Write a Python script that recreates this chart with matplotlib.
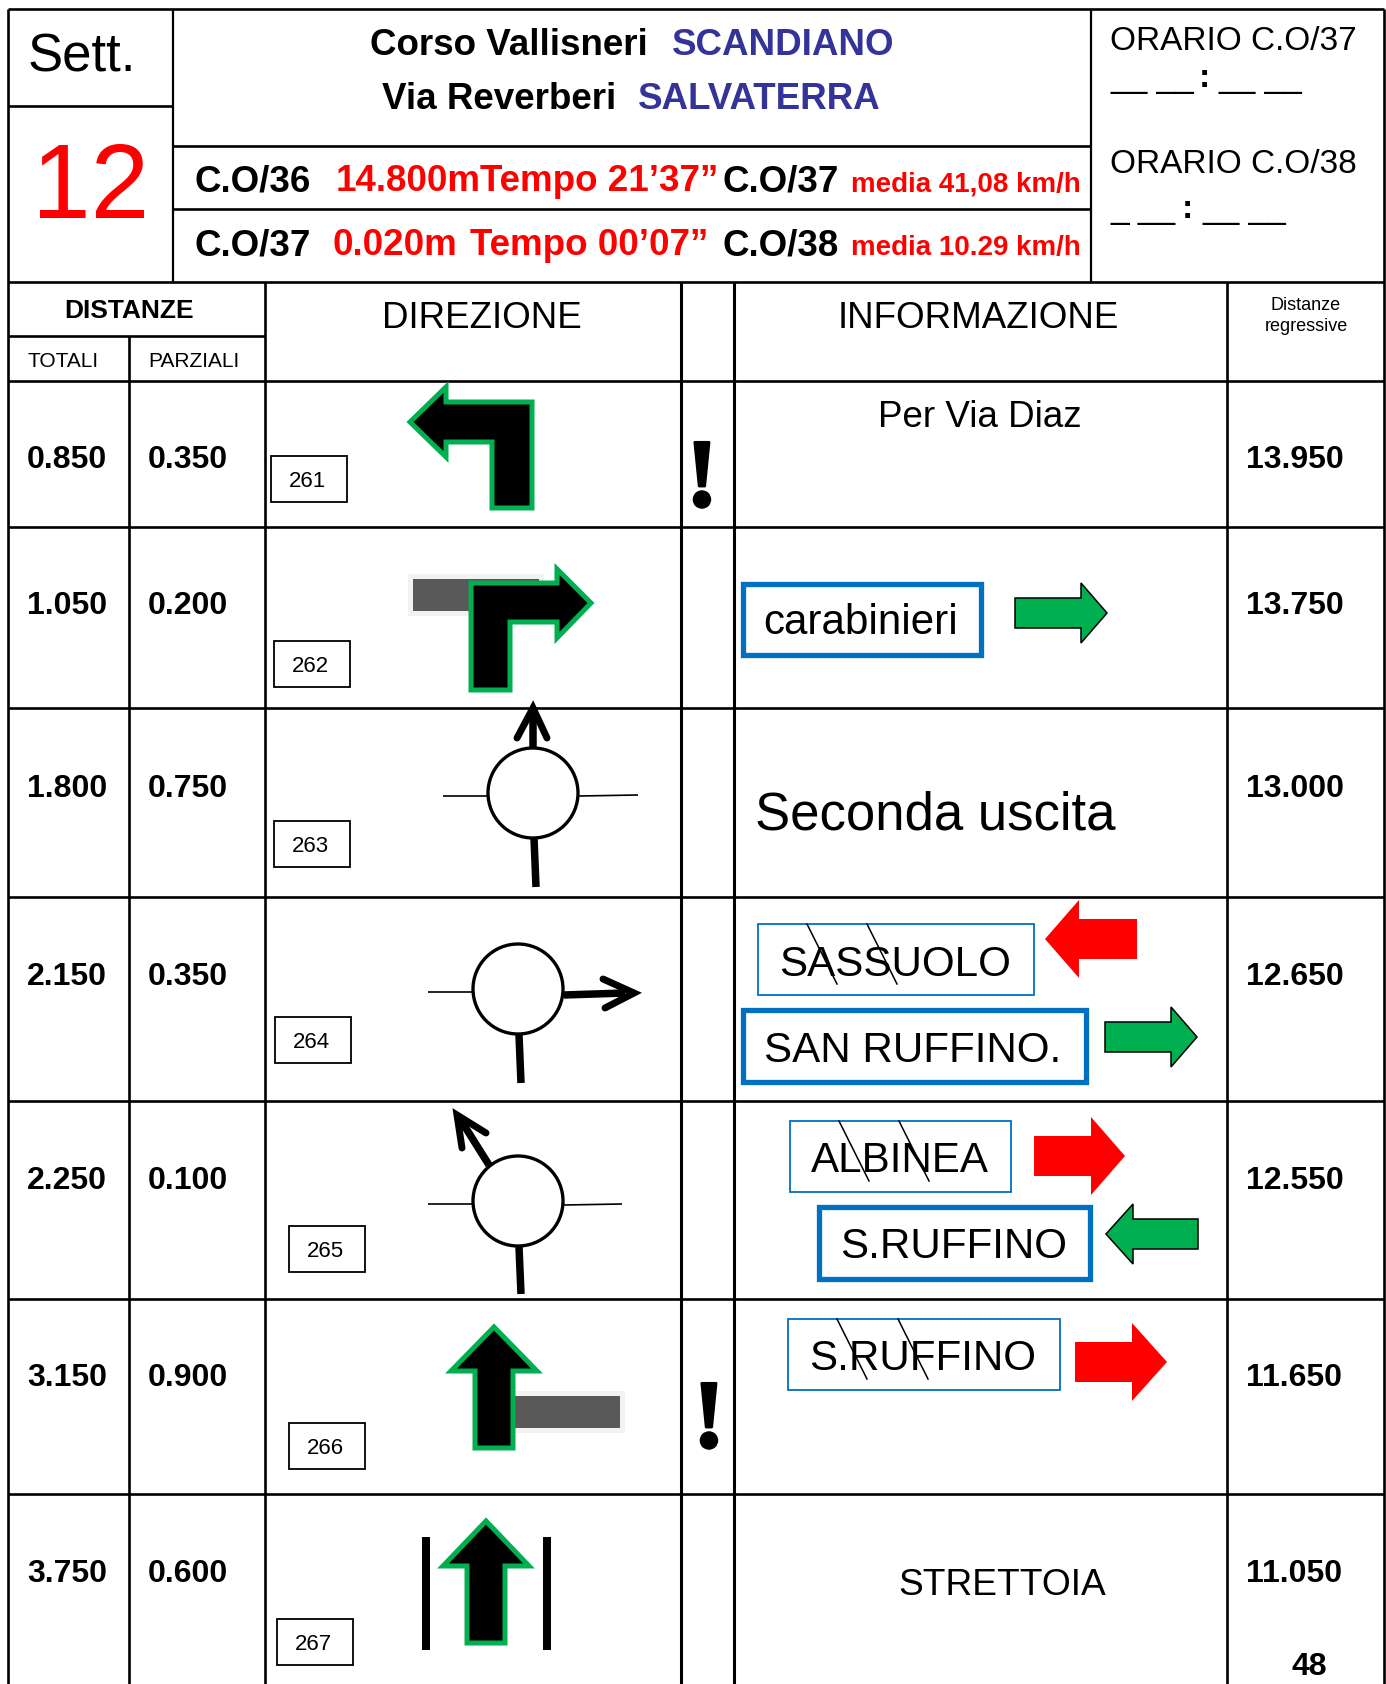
import matplotlib
matplotlib.use("Agg")
import matplotlib.pyplot as plt
from matplotlib.patches import Polygon, Rectangle, Circle
import matplotlib.patheffects as pe

plt.rcParams['font.family'] = ['Liberation Sans', 'DejaVu Sans']

# table values
totali = ["0.850", "1.050", "1.800", "2.150", "2.250", "3.150", "3.750"]
parziali = ["0.350", "0.200", "0.750", "0.350", "0.100", "0.900", "0.600"]
regressive = ["13.950", "13.750", "13.000", "12.650", "12.550", "11.650", "11.050"]
ids = ["261", "262", "263", "264", "265", "266", "267"]
page_no = "48"

# layout, in pixels of the 1386x1684 page
row_lines = [381, 527, 708, 897, 1101, 1299, 1494]
row_base = [468, 614, 797, 985, 1189, 1386, 1582]
id_box = [(271, 456), (274, 641), (274, 821), (275, 1017), (289, 1226), (289, 1423), (277, 1619)]

GREEN = "#00B050"
BLUE = "#0070C0"
NAVY = "#333399"
RED = "#FF0000"

fig = plt.figure(figsize=(13.86, 16.84), dpi=100)
ax = fig.add_axes([0, 0, 1, 1])
ax.set_xlim(0, 1386)
ax.set_ylim(1684, 0)
ax.axis("off")


def hline(y, x0=8, x1=1384, lw=1.9):
    ax.plot([x0, x1], [y, y], color="black", lw=lw, solid_capstyle="butt", zorder=2)


def vline(x, y0=282, y1=1684, lw=1.9):
    ax.plot([x, x], [y0, y1], color="black", lw=lw, solid_capstyle="butt", zorder=2)


def txt(x, y, s, size, color="black", bold=False, ha="left", **kw):
    ax.text(x, y, s, fontsize=size, color=color, ha=ha, va="baseline",
            fontweight="bold" if bold else "normal", zorder=6, **kw)


def poly(pts, face="black", edge=GREEN, lw=3.6, z=4):
    ax.add_patch(Polygon(pts, closed=True, facecolor=face, edgecolor=edge, lw=lw,
                         joinstyle="miter", zorder=z))


def hor_arrow(tail, neck, tip, yc, shaft, head, face, edge="none", lw=0):
    pts = [(tail, yc - shaft), (neck, yc - shaft), (neck, yc - head), (tip, yc),
           (neck, yc + head), (neck, yc + shaft), (tail, yc + shaft)]
    poly(pts, face=face, edge=edge, lw=lw)


def up_arrow(xc, tip, neck, tail, shaft=19, head=43):
    pts = [(xc, tip), (xc + head, neck), (xc + shaft, neck), (xc + shaft, tail),
           (xc - shaft, tail), (xc - shaft, neck), (xc - head, neck)]
    poly(pts)


def grey_bar(x0, y0, x1, y1):
    ax.add_patch(Rectangle((x0 - 5, y0 - 5), x1 - x0 + 10, y1 - y0 + 10, facecolor="#F2F2F2",
                           edgecolor="none", zorder=3))
    ax.add_patch(Rectangle((x0, y0), x1 - x0, y1 - y0, facecolor="#595959",
                           edgecolor="none", zorder=3))


def roundabout(cx, cy, left=None, right=None, bottom=None, exit_line=None, head=None):
    ax.add_patch(Circle((cx, cy), 45, facecolor="white", edgecolor="black", lw=2.4, zorder=4))
    for seg in (left, right):
        if seg:
            ax.plot(seg[0], seg[1], color="black", lw=1.2, solid_capstyle="butt", zorder=3)
    ax.plot(bottom[0], bottom[1], color="black", lw=5.4, solid_capstyle="butt", zorder=3)
    ax.plot(exit_line[0], exit_line[1], color="black", lw=5.4, solid_capstyle="butt", zorder=3)
    ax.plot(head[0], head[1], color="black", lw=5, solid_capstyle="round",
            solid_joinstyle="miter", zorder=5)


def sign_box(x0, y0, x1, y1, thick=False):
    ax.add_patch(Rectangle((x0, y0), x1 - x0, y1 - y0, facecolor="white", edgecolor=BLUE,
                           lw=3.8 if thick else 1.3, zorder=3))


def strike(x, y0):
    ax.plot([x, x + 30], [y0, y0 + 60], color="black", lw=1.1, zorder=7)


# grid
hline(9)
hline(282)
hline(336, 8, 265)
hline(106, 8, 173)
hline(146, 173, 1091)
hline(209, 173, 1091)
for y in row_lines:
    hline(y)
vline(8, 9)
vline(1384, 9)
vline(173, 9, 282, 1.6)
vline(1091, 9, 282, 1.6)
vline(129, 336)
vline(265)
vline(681, lw=2.2)
vline(734, lw=2.2)
vline(1227)

# header
txt(28, 71, "Sett.", 38)
txt(32, 218, "12", 76, color=RED)
txt(370, 55, "Corso Vallisneri", 26.5, bold=True)
txt(672, 55, "SCANDIANO", 26.5, color=NAVY, bold=True)
txt(382, 109, "Via Reverberi", 26.5, bold=True)
txt(638, 109, "SALVATERRA", 26.5, color=NAVY, bold=True)

txt(195, 191, "C.O/36", 26.5, bold=True)
txt(336, 191, "14.800m", 26.5, color=RED, bold=True)
txt(480, 191, "Tempo 21’37”", 26.5, color=RED, bold=True)
txt(723, 191, "C.O/37", 26.5, bold=True)
txt(851, 191, "media 41,08 km/h", 20, color=RED, bold=True)
txt(195, 255, "C.O/37", 26.5, bold=True)
txt(333, 255, "0.020m", 26.5, color=RED, bold=True)
txt(470, 255, "Tempo 00’07”", 26.5, color=RED, bold=True)
txt(723, 255, "C.O/38", 26.5, bold=True)
txt(851, 255, "media 10.29 km/h", 20, color=RED, bold=True)

txt(1110, 50, "ORARIO C.O/37", 24)
txt(1110, 87, "__ __", 24)
txt(1199, 87, ":", 24, bold=True)
txt(1219, 87, "__ __", 24)
txt(1110, 173, "ORARIO C.O/38", 24)
txt(1110, 218, "_ __", 24)
txt(1182, 218, ":", 24, bold=True)
txt(1202, 218, "__ __", 24)

txt(64, 318, "DISTANZE", 19, bold=True)
txt(27, 367, "TOTALI", 15)
txt(148, 367, "PARZIALI", 15)
txt(382, 328, "DIREZIONE", 26.5)
txt(838, 328, "INFORMAZIONE", 26.5)
txt(1306, 310, "Distanze", 13, ha="center")
txt(1306, 331, "regressive", 13, ha="center")

# rows
for i in range(len(totali)):
    txt(27, row_base[i], totali[i], 23, bold=True)
    txt(148, row_base[i], parziali[i], 23, bold=True)
    txt(1246, row_base[i], regressive[i], 23, bold=True)
    x, y = id_box[i]
    ax.add_patch(Rectangle((x, y), 76, 46, facecolor="white", edgecolor="black", lw=1.3, zorder=3))
    txt(x + 36, y + 31, ids[i], 16, ha="center")
txt(1291, 1675, page_no, 23, bold=True)

# exclamation marks
txt(702, 506, "!", 70, bold=True, ha="center", family="Liberation Serif",
    path_effects=[pe.withStroke(linewidth=2, foreground="black")])
txt(709, 1447, "!", 70, bold=True, ha="center", family="Liberation Serif",
    path_effects=[pe.withStroke(linewidth=2, foreground="black")])

# direction arrows
poly([(410, 422), (446, 387), (446, 402), (532, 402), (532, 508), (492, 508),
      (492, 442), (446, 442), (446, 457)])
grey_bar(413, 579, 539, 611)
poly([(591, 603), (557, 569), (557, 583), (471, 583), (471, 690), (510, 690),
      (510, 622), (557, 622), (557, 638)])
roundabout(533, 793, ([443, 488], [796, 796]), ([579, 638], [796, 795]),
           ([534, 536], [838, 887]), ([533, 533], [748, 715]),
           ([517, 533, 547], [738, 708, 738]))
roundabout(518, 989, ([428, 473], [992, 992]), None,
           ([519, 521], [1035, 1083]), ([564, 625], [995, 993]),
           ([603, 634, 605], [979, 993, 1008]))
roundabout(518, 1201, ([428, 473], [1204, 1204]), ([564, 622], [1205, 1204]),
           ([519, 521], [1247, 1294]), ([489, 462], [1165, 1122]),
           ([462, 457, 486], [1148, 1115, 1133]))
grey_bar(513, 1396, 620, 1428)
up_arrow(494, 1327, 1371, 1448)
up_arrow(486, 1521, 1566, 1643)
ax.add_patch(Rectangle((422, 1537), 8, 113, facecolor="black", edgecolor="none", zorder=3))
ax.add_patch(Rectangle((543, 1537), 8, 113, facecolor="black", edgecolor="none", zorder=3))

# information column
txt(878, 427, "Per Via Diaz", 26.5)
sign_box(743, 584, 981, 655, thick=True)
txt(763, 634, "carabinieri", 30.3)
hor_arrow(1015, 1081, 1107, 613, 15, 30, GREEN, "black", 1.1)
txt(755, 829, "Seconda uscita", 38)

sign_box(758, 924, 1034, 995)
txt(779, 976, "SASSUOLO", 30.3)
strike(807, 924)
strike(867, 924)
hor_arrow(1137, 1079, 1045, 939, 20, 39, RED)
sign_box(743, 1010, 1086, 1082, thick=True)
txt(764, 1062, "SAN RUFFINO.", 30.3)
hor_arrow(1105, 1171, 1197, 1037, 15, 30, GREEN, "black", 1.1)

sign_box(790, 1121, 1011, 1192)
txt(811, 1172, "ALBINEA", 30.3)
strike(839, 1121)
strike(899, 1121)
hor_arrow(1034, 1091, 1125, 1156, 20, 39, RED)
sign_box(819, 1207, 1090, 1279, thick=True)
txt(840, 1258, "S.RUFFINO", 30.3)
hor_arrow(1198, 1133, 1106, 1234, 15, 30, GREEN, "black", 1.1)

sign_box(788, 1319, 1060, 1390)
txt(809, 1370, "S.RUFFINO", 30.3)
strike(837, 1319)
strike(898, 1319)
hor_arrow(1075, 1132, 1167, 1362, 20, 39, RED)

txt(898, 1595, "STRETTOIA", 26.7)

fig.savefig("out.png", dpi=100)
